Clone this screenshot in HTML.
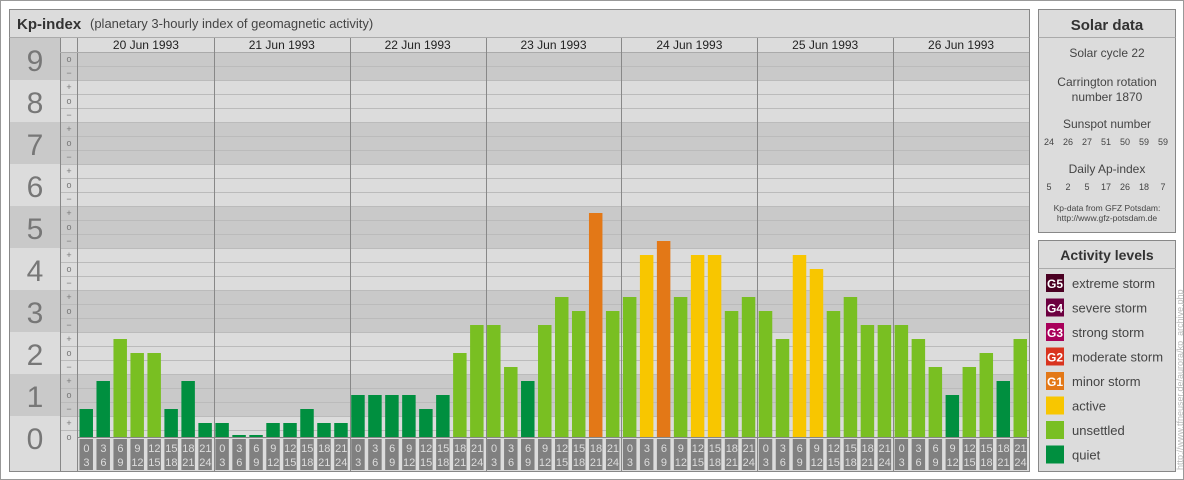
<!DOCTYPE html>
<html><head><meta charset="utf-8">
<style>
html,body{margin:0;padding:0;background:#fff;}
svg{display:block;font-family:"Liberation Sans",sans-serif;}
</style></head>
<body>
<svg id="chart" width="1184" height="480" viewBox="0 0 1184 480">
  <rect x="0.5" y="0.5" width="1183" height="479" fill="#fff" stroke="#999"/>
  <g>
    <rect x="9.5" y="9.5" width="1020" height="462" fill="#dcdcdc" stroke="#888"/>
    <line x1="9.5" y1="37.5" x2="1029.5" y2="37.5" stroke="#aaa"/>
    <text x="17" y="29" font-size="15" font-weight="bold" fill="#333">Kp-index</text>
    <text x="90" y="28" font-size="13" fill="#444">(planetary 3-hourly index of geomagnetic activity)</text>
  </g>
  <g id="grid"></g>
  <g id="bars"></g>
  <g id="xlab"></g>

  <g>
    <rect x="1038.5" y="9.5" width="137" height="223" fill="#dcdcdc" stroke="#888"/>
    <line x1="1038.5" y1="37.5" x2="1175.5" y2="37.5" stroke="#aaa"/>
    <text x="1107" y="30" font-size="15" font-weight="bold" fill="#333" text-anchor="middle">Solar data</text>
    <g font-size="12" fill="#444" text-anchor="middle">
      <text x="1107" y="57">Solar cycle 22</text>
      <text x="1107" y="86">Carrington rotation</text>
      <text x="1107" y="101">number 1870</text>
      <text x="1107" y="128">Sunspot number</text>
      <text x="1107" y="173">Daily Ap-index</text>
    </g>
    <g id="solarnums" font-size="9" fill="#444" text-anchor="middle"></g>
    <text x="1107" y="211" font-size="8.5" fill="#444" text-anchor="middle">Kp-data from GFZ Potsdam:</text>
    <text x="1107" y="221" font-size="8.5" fill="#444" text-anchor="middle">http://www.gfz-potsdam.de</text>
  </g>
  <g>
    <rect x="1038.5" y="240.5" width="137" height="231" fill="#dcdcdc" stroke="#888"/>
    <line x1="1038.5" y1="268.5" x2="1175.5" y2="268.5" stroke="#aaa"/>
    <text x="1107" y="260" font-size="14" font-weight="bold" fill="#333" text-anchor="middle">Activity levels</text>
    <g id="legend"></g>
  </g>
  <text transform="translate(1183,470) rotate(-90)" font-size="9" fill="#bbb">http://www.tfneuser.de/aurora/kp_archive.php</text>
</svg>
<script>
// ---- data ----
const days = ["20 Jun 1993","21 Jun 1993","22 Jun 1993","23 Jun 1993","24 Jun 1993","25 Jun 1993","26 Jun 1993"];
// Kp values in thirds (e.g. 4 = 1+, 6 = 2o)
const kpThirds = [
  2,4,7,6,6,2,4,1,
  1,0,0,1,1,2,1,1,
  3,3,3,3,2,3,6,8,
  8,5,4,8,10,9,16,9,
  10,13,14,10,13,13,9,10,
  9,7,13,12,9,10,8,8,
  8,7,5,3,5,6,4,7
];
const sunspots = [24,26,27,51,50,59,59];
const apIndex = [5,2,5,17,26,18,7];
const intervals = [["0","3"],["3","6"],["6","9"],["9","12"],["12","15"],["15","18"],["18","21"],["21","24"]];
const legendNames = ["extreme storm","severe storm","strong storm","moderate storm","minor storm","active","unsettled","quiet"];
const legendCodes = ["G5","G4","G3","G2","G1","","",""];
const legendColors = ["#4a0022","#6c0040","#a8005a","#d9331e","#e37817","#f8c600","#79bf22","#008f3f"];

// ---- axes ----
const NS="http://www.w3.org/2000/svg";
const X0=78, X1=1029, BASE=437, UNIT=42, TOP=52;
const dayW=(X1-X0)/days.length, slotW=dayW/8;
const y = v => BASE - v*UNIT;
const xSlot = i => X0 + Math.floor(i/8)*dayW + (i%8)*slotW;
function mk(tag, attrs, parent){const e=document.createElementNS(NS,tag);for(const k in attrs)e.setAttribute(k,attrs[k]);parent.appendChild(e);return e;}
function colorFor(t){ if(t<=4) return legendColors[7]; if(t<=10) return legendColors[6]; if(t<=13) return legendColors[5]; if(t<=16) return legendColors[4]; if(t<=19) return legendColors[3]; if(t<=22) return legendColors[2]; if(t<=25) return legendColors[1]; return legendColors[0]; }

const grid=document.getElementById('grid');
// bands
for(let n=0;n<=9;n++){
  const yb=Math.min(BASE, y(n-0.5));
  const fill = n%2 ? "#c9c9c9" : "#dcdcdc";
  const ytLab=Math.max(38, y(n+0.5)), ytPlot=Math.max(TOP, y(n+0.5));
  mk('rect',{x:10,y:ytLab,width:50,height:(n===0?471:yb)-ytLab,fill:fill},grid);
  const r=mk('rect',{x:60,y:ytPlot,width:X1-60,height:yb-ytPlot,fill:fill},grid);
  
  
  const lbl=mk('text',{x:35,y:y(n)+12,'font-size':30,fill:'#777','text-anchor':'middle'},grid);
  lbl.textContent=n;
  
  
}
// third lines & sub labels
for(let k=0;k<=27;k++){
  const ly=BASE-7-14*k;
  if(ly>TOP) mk('line',{x1:60,x2:X1,y1:ly+0.5,y2:ly+0.5,stroke:'#bbb'},grid);
  const my=BASE-14*k;
  if(my>=TOP){
    const s=mk('text',{x:69,y:my+3,'font-size':9,fill:'#777','text-anchor':'middle'},grid);
    s.textContent = k%3===0 ? "o" : (k%3===1 ? "+" : "−");
    
    
  }
}
mk('line',{x1:60.5,x2:60.5,y1:38,y2:471,stroke:'#888'},grid);
mk('line',{x1:77.5,x2:77.5,y1:38,y2:471,stroke:'#888'},grid);
mk('line',{x1:60,x2:X1,y1:52.5,y2:52.5,stroke:'#aaa'},grid);
days.forEach((d,i)=>{
  const xl=X0+i*dayW;
  if(i>0) mk('line',{x1:Math.round(xl)+0.5,x2:Math.round(xl)+0.5,y1:38,y2:471,stroke:'#888'},grid);
  const t=mk('text',{x:xl+dayW/2,y:49,'font-size':12,fill:'#222','text-anchor':'middle'},grid);
  t.textContent=d;
  
  
});
mk('line',{x1:X0,x2:X1,y1:BASE+0.5,y2:BASE+0.5,stroke:'#888'},grid);

// bars
const bars=document.getElementById('bars');
kpThirds.forEach((t,i)=>{
  const h=Math.max(2,t*UNIT/3);
  const b=mk('rect',{x:xSlot(i)+1.5,y:BASE-h,width:slotW-3.5,height:h,fill:colorFor(t)},bars);
  
  
});
// x labels
const xl=document.getElementById('xlab');
kpThirds.forEach((t,i)=>{
  const iv=intervals[i%8], x=xSlot(i);
  const r=mk('rect',{x:x+1.5,y:439,width:slotW-3.5,height:31,fill:'#808080'},xl);
  
  
  const a=mk('text',{x:x+slotW/2,y:452,'font-size':11,fill:'#ddd','text-anchor':'middle'},xl); a.textContent=iv[0];
  
  
  const c=mk('text',{x:x+slotW/2,y:466,'font-size':11,fill:'#ddd','text-anchor':'middle'},xl); c.textContent=iv[1];
  
  
});
// solar numbers
const sn=document.getElementById('solarnums');
sunspots.forEach((v,i)=>{
  const t=mk('text',{x:1049+i*19,y:145},sn); t.textContent=v;
  
  
});
apIndex.forEach((v,i)=>{
  const t=mk('text',{x:1049+i*19,y:190},sn); t.textContent=v;
  
  
});
// legend
const lg=document.getElementById('legend');
legendNames.forEach((n,i)=>{
  const cy=283+i*24.5;
  const r=mk('rect',{x:1046,y:cy-9,width:18,height:18,fill:legendColors[i]},lg);
  
  
  if(legendCodes[i]){
    const c=mk('text',{x:1055,y:cy+5,'font-size':12,'font-weight':'bold',fill:'#fff','text-anchor':'middle'},lg); c.textContent=legendCodes[i];
    
    
  }
  const t=mk('text',{x:1072,y:cy+5,'font-size':13,fill:'#444'},lg); t.textContent=n;
  
  
});
</script>
</body></html>
